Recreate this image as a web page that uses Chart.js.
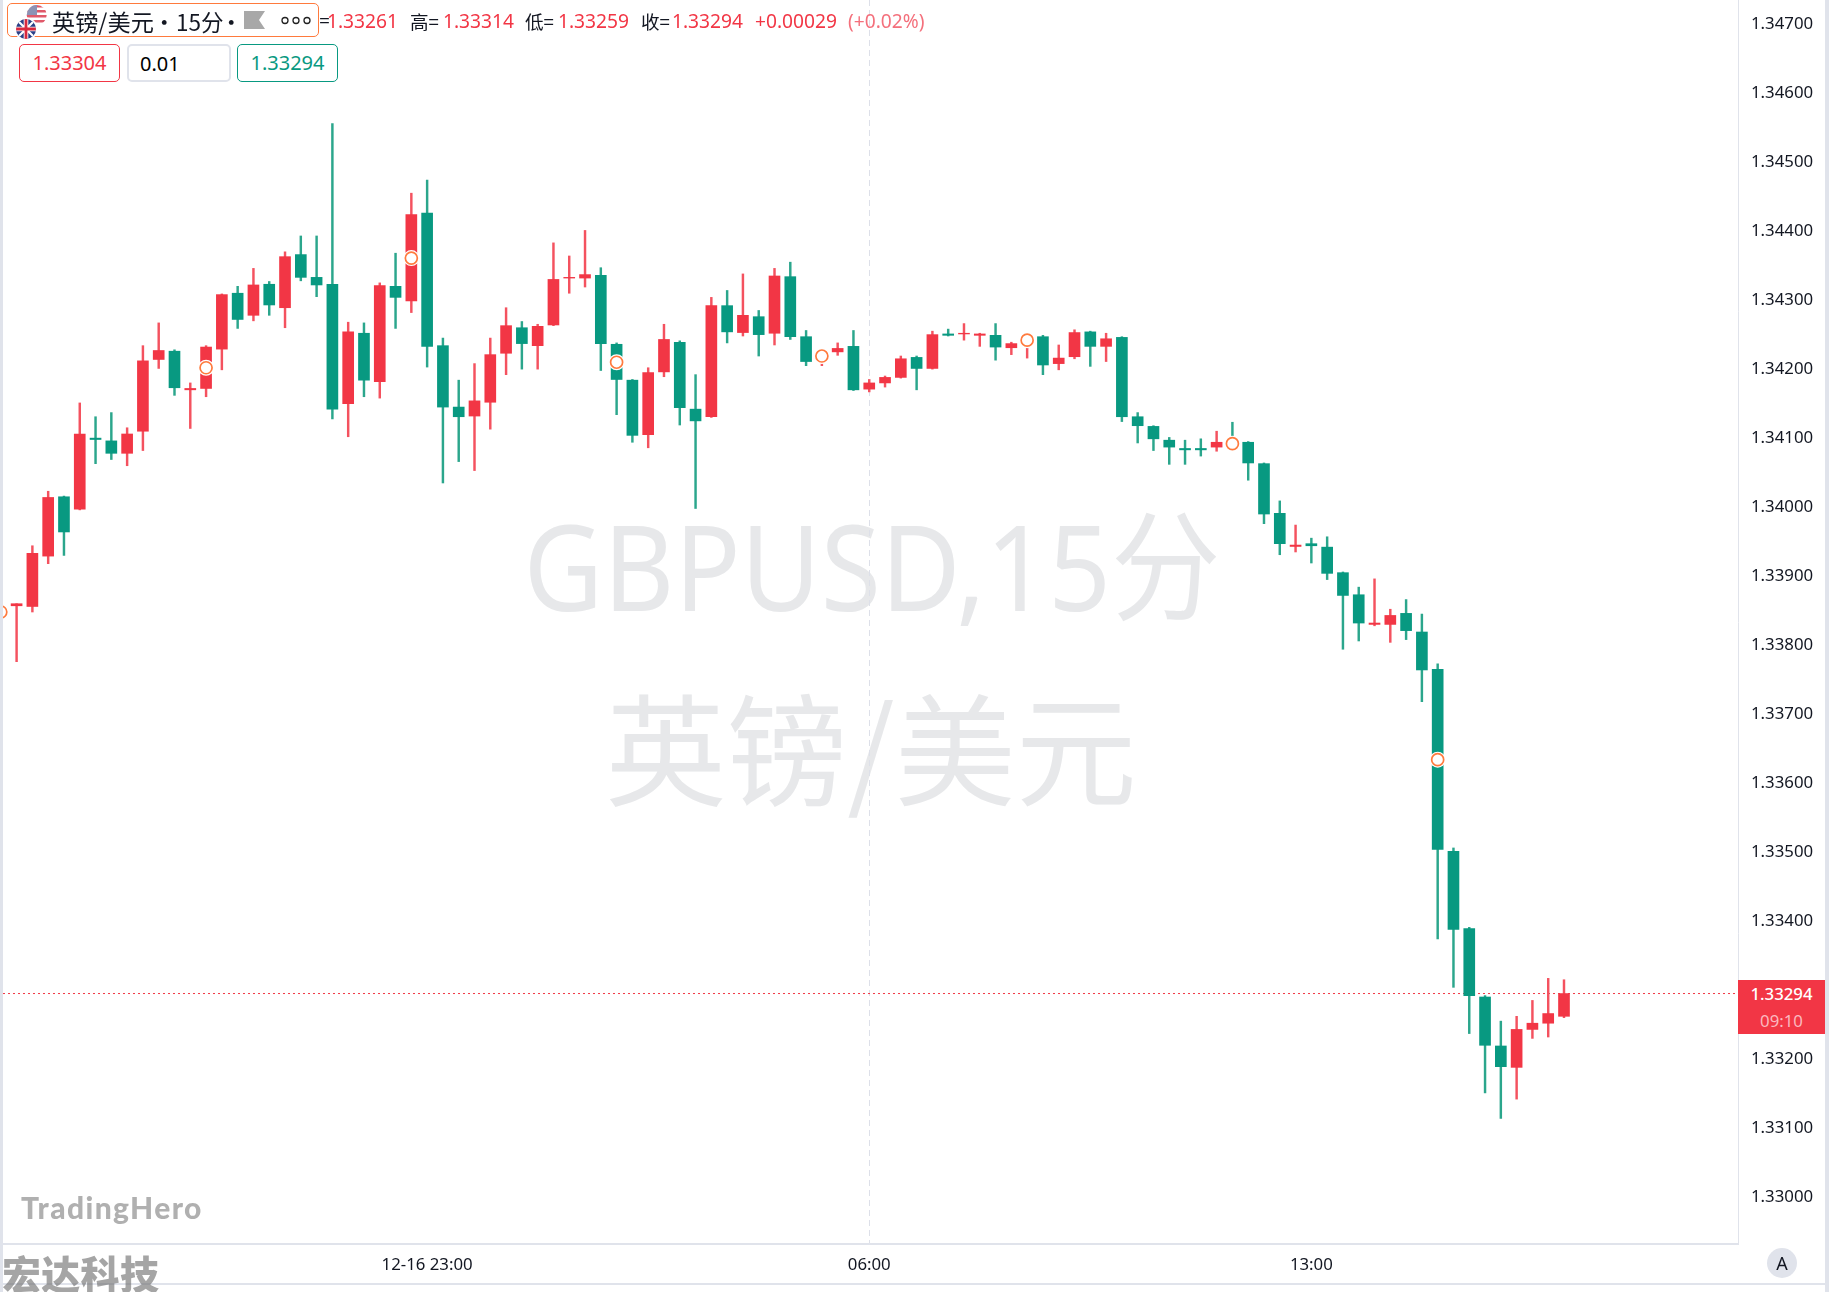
<!DOCTYPE html>
<html>
<head>
<meta charset="utf-8">
<title>GBPUSD 15分</title>
<script src="https://cdn.jsdelivr.net/npm/chart.js@4"></script>
<style>
  html, body { margin: 0; padding: 0; background: #fff; }
  #wrap { position: relative; width: 1829px; height: 1292px; overflow: hidden; background: #fff; font-family: "Noto Sans", sans-serif; color: #131722; }
  #chart { position: absolute; left: 0; top: 0; z-index: 2; }
  .abs { position: absolute; white-space: nowrap; z-index: 3; }
  .band { position: absolute; background: #e0e3eb; z-index: 4; }
  .wm { position: absolute; z-index: 1; color: #e7e8ea; white-space: nowrap; text-align: center; }
  .ohlc { font-size: 19.2px; top: 8px; line-height: 26px; }
  .up { color: #f23645; }
  .chip { box-sizing: border-box; height: 38px; top: 44px; border-radius: 5px; background: #fff; font-size: 20px; line-height: 36px; text-align: center; }
  .hd { top: 6px; font: 400 22.5px 'Noto Sans CJK SC'; line-height: 30px; color: #131722; }
</style>
</head>
<body>
<div id="wrap">
  <div class="wm" style="left:472px;top:490px;width:800px;font:400 119px 'Noto Sans','Noto Sans CJK SC';transform:scaleX(.92);line-height:150px">GBPUSD,15分</div>
  <div class="wm" style="left:471px;top:654px;width:800px;font:400 121px 'Noto Sans CJK SC';line-height:180px">英镑/美元</div>

  <canvas id="chart" width="1829" height="1292"></canvas>

  <div class="band" style="left:0;top:0;width:3px;height:1292px"></div>
  <div class="band" style="left:1825px;top:0;width:4px;height:1292px"></div>
  <div class="band" style="left:3px;top:1283px;width:1822px;height:2px"></div>

  <div class="abs" style="left:7px;top:3px;width:312px;height:34px;border:1.5px solid #ff7a3d;border-radius:5px;background:#fff;box-sizing:border-box"></div>
  <svg class="abs" style="left:13px;top:3px" width="36" height="36" viewBox="0 0 36 36">
    <defs>
      <clipPath id="us"><circle cx="23.7" cy="12" r="10"/></clipPath>
      <clipPath id="uk"><circle cx="13" cy="26" r="10"/></clipPath>
    </defs>
    <g clip-path="url(#us)">
      <rect x="13" y="2" width="22" height="20" fill="#fff"/>
      <rect x="13" y="2" width="22" height="2.5" fill="#e0596a"/>
      <rect x="13" y="7" width="22" height="2.5" fill="#e0596a"/>
      <rect x="13" y="12" width="22" height="2.5" fill="#e0596a"/>
      <rect x="13" y="17" width="22" height="2.5" fill="#e0596a"/>
      <rect x="13" y="2" width="11" height="10" fill="#8c93b5"/>
    </g>
    <circle cx="13" cy="26" r="11.5" fill="#fff"/>
    <g clip-path="url(#uk)">
      <rect x="3" y="16" width="20" height="20" fill="#2b3f86"/>
      <path d="M3 16L23 36M23 16L3 36" stroke="#fff" stroke-width="2.2"/>
      <path d="M13 16V36M3 26H23" stroke="#fff" stroke-width="4.6"/>
      <path d="M13 16V36M3 26H23" stroke="#d9283e" stroke-width="2.8"/>
    </g>
  </svg>
  <div class="abs hd" style="left:52px;font-size:23.2px">英镑/美元</div>
  <div class="abs hd" style="left:153px">•</div>
  <div class="abs hd" style="left:176px">15分</div>
  <div class="abs hd" style="left:220px">•</div>
  <svg class="abs" style="left:244px;top:11px" width="70" height="18" viewBox="0 0 70 18">
    <path d="M0 0H21L15 9L21 18H0Z" fill="#a8a8a8"/>
    <circle cx="41" cy="9.5" r="3" fill="none" stroke="#222" stroke-width="1.3"/>
    <circle cx="52" cy="9.5" r="3" fill="none" stroke="#222" stroke-width="1.3"/>
    <circle cx="63" cy="9.5" r="3" fill="none" stroke="#222" stroke-width="1.3"/>
  </svg>

  <div class="abs ohlc" style="left:319px">=</div>
  <div class="abs ohlc up" style="left:327px">1.33261</div>
  <div class="abs ohlc" style="left:410px;font-family:'Noto Sans CJK SC';font-size:18.6px">高=</div>
  <div class="abs ohlc up" style="left:443px">1.33314</div>
  <div class="abs ohlc" style="left:525px;font-family:'Noto Sans CJK SC';font-size:18.6px">低=</div>
  <div class="abs ohlc up" style="left:558px">1.33259</div>
  <div class="abs ohlc" style="left:641px;font-family:'Noto Sans CJK SC';font-size:18.6px">收=</div>
  <div class="abs ohlc up" style="left:672px">1.33294</div>
  <div class="abs ohlc up" style="left:755px">+0.00029</div>
  <div class="abs ohlc" style="left:848px;color:#f4707c">(+0.02%)</div>

  <div class="abs chip up" style="left:19px;width:101px;border:1.5px solid #f23645">1.33304</div>
  <div class="abs chip" style="left:127px;width:104px;border:2px solid #e0e3eb;text-align:left;padding-left:11px;color:#000">0.01</div>
  <div class="abs chip" style="left:237px;width:101px;border:1.5px solid #089981;color:#089981">1.33294</div>

  <div class="abs" style="left:21px;top:1187px;font:900 30px Lato;color:#b0b0b0;line-height:40px;letter-spacing:1.4px">TradingHero</div>
  <div class="abs" style="left:2px;top:1247px;font:900 39px 'Noto Sans CJK SC';color:rgba(110,110,110,.62);line-height:50px;z-index:5;letter-spacing:.3px">宏达科技</div>

  <div class="abs" style="left:1738px;top:980px;width:87px;height:54px;background:#f23645;text-align:center;font-size:16.8px;line-height:27px;color:#fff;font-weight:500">1.33294<br><span style="color:#fbb8bf;font-weight:400">09:10</span></div>
  <div class="abs" style="left:1767px;top:1248px;width:30px;height:30px;border-radius:50%;background:#e0e3eb;text-align:center;font-size:18px;line-height:30px">A</div>
</div>

<script>
// prices, candle by candle
const opens = [
  1.33856, 1.33855, 1.33928, 1.34014, 1.33996, 1.34099, 1.34095, 1.34077, 1.34109, 1.34213,
  1.34225, 1.34169, 1.34171, 1.34228, 1.34309, 1.34277, 1.34322, 1.34288, 1.34365, 1.34332,
  1.34322, 1.34149, 1.34251, 1.34181, 1.34319, 1.34298, 1.34425, 1.34233, 1.34144, 1.34131,
  1.34151, 1.34222, 1.34259, 1.34233, 1.34263, 1.34331, 1.34331, 1.34335, 1.34235, 1.34183,
  1.34104, 1.34195, 1.34238, 1.34141, 1.34130, 1.34291, 1.34252, 1.34275, 1.34251, 1.34333,
  1.34246, 1.34216, 1.34224, 1.34232, 1.34170, 1.34179, 1.34187, 1.34216, 1.34200, 1.34250,
  1.34250, 1.34248, 1.34248, 1.34230, 1.34238, 1.34246, 1.34207, 1.34217, 1.34253, 1.34232,
  1.34245, 1.34130, 1.34116, 1.34096, 1.34084, 1.34084, 1.34086, 1.34094, 1.34093, 1.34062,
  1.33990, 1.33942, 1.33946, 1.33941, 1.33904, 1.33872, 1.33829, 1.33829, 1.33845, 1.33818,
  1.33764, 1.33500, 1.33388, 1.33289, 1.33218, 1.33187, 1.33242, 1.33251, 1.33261
];
const highs = [
  1.33859, 1.33943, 1.34022, 1.34015, 1.34150, 1.34130, 1.34136, 1.34114, 1.34233, 1.34266,
  1.34227, 1.34179, 1.34233, 1.34308, 1.34319, 1.34345, 1.34326, 1.34369, 1.34392, 1.34392,
  1.34555, 1.34267, 1.34266, 1.34324, 1.34367, 1.34454, 1.34473, 1.34244, 1.34183, 1.34207,
  1.34244, 1.34288, 1.34268, 1.34264, 1.34382, 1.34363, 1.34400, 1.34346, 1.34237, 1.34184,
  1.34201, 1.34264, 1.34240, 1.34191, 1.34303, 1.34313, 1.34337, 1.34284, 1.34345, 1.34354,
  1.34255, 1.34226, 1.34237, 1.34255, 1.34184, 1.34189, 1.34218, 1.34218, 1.34254, 1.34257,
  1.34265, 1.34251, 1.34265, 1.34238, 1.34248, 1.34248, 1.34234, 1.34256, 1.34254, 1.34251,
  1.34246, 1.34136, 1.34117, 1.34100, 1.34096, 1.34098, 1.34109, 1.34122, 1.34094, 1.34063,
  1.34008, 1.33973, 1.33954, 1.33956, 1.33905, 1.33883, 1.33895, 1.33851, 1.33865, 1.33844,
  1.33772, 1.33505, 1.33390, 1.33291, 1.33254, 1.33261, 1.33284, 1.33316, 1.33314
];
const lows = [
  1.33775, 1.33847, 1.33917, 1.33929, 1.33995, 1.34062, 1.34068, 1.34059, 1.34081, 1.34200,
  1.34161, 1.34113, 1.34159, 1.34198, 1.34258, 1.34269, 1.34277, 1.34259, 1.34327, 1.34304,
  1.34127, 1.34101, 1.34159, 1.34157, 1.34258, 1.34281, 1.34202, 1.34034, 1.34065, 1.34052,
  1.34112, 1.34191, 1.34199, 1.34199, 1.34262, 1.34309, 1.34318, 1.34197, 1.34133, 1.34093,
  1.34085, 1.34188, 1.34118, 1.33997, 1.34129, 1.34237, 1.34247, 1.34218, 1.34234, 1.34242,
  1.34204, 1.34204, 1.34219, 1.34168, 1.34166, 1.34173, 1.34186, 1.34169, 1.34199, 1.34247,
  1.34241, 1.34232, 1.34212, 1.34220, 1.34215, 1.34191, 1.34198, 1.34214, 1.34203, 1.34210,
  1.34123, 1.34092, 1.34081, 1.34061, 1.34061, 1.34073, 1.34080, 1.34085, 1.34038, 1.33975,
  1.33930, 1.33934, 1.33918, 1.33894, 1.33793, 1.33805, 1.33827, 1.33803, 1.33807, 1.33717,
  1.33373, 1.33303, 1.33236, 1.33150, 1.33113, 1.33141, 1.33229, 1.33231, 1.33259
];
const closes = [
  1.33859, 1.33932, 1.34013, 1.33963, 1.34105, 1.34097, 1.34077, 1.34105, 1.34211, 1.34226,
  1.34172, 1.34171, 1.34231, 1.34307, 1.34271, 1.34321, 1.34292, 1.34362, 1.34332, 1.34321,
  1.34141, 1.34253, 1.34183, 1.34320, 1.34303, 1.34423, 1.34232, 1.34144, 1.34130, 1.34153,
  1.34220, 1.34262, 1.34236, 1.34261, 1.34329, 1.34332, 1.34336, 1.34236, 1.34184, 1.34103,
  1.34194, 1.34242, 1.34143, 1.34124, 1.34291, 1.34253, 1.34277, 1.34249, 1.34334, 1.34246,
  1.34210, 1.34220, 1.34229, 1.34169, 1.34179, 1.34187, 1.34214, 1.34200, 1.34249, 1.34248,
  1.34251, 1.34250, 1.34231, 1.34236, 1.34243, 1.34205, 1.34215, 1.34252, 1.34232, 1.34243,
  1.34130, 1.34117, 1.34098, 1.34086, 1.34082, 1.34082, 1.34093, 1.34089, 1.34063, 1.33989,
  1.33946, 1.33944, 1.33943, 1.33903, 1.33871, 1.33831, 1.33831, 1.33842, 1.33820, 1.33763,
  1.33503, 1.33387, 1.33291, 1.33219, 1.33188, 1.33242, 1.33251, 1.33265, 1.33294
];

// orange event rings
const markerIndex = [-1, 12, 25, 38, 51, 64, 77, 90];
const markerValues = [1.33847, 1.34201, 1.34360, 1.34209, 1.34218, 1.34241, 1.34091, 1.33633];

const lastPrice = 1.33294;

const priceTicks = [1.33, 1.331, 1.332, 1.333, 1.334, 1.335, 1.336, 1.337, 1.338, 1.339,
  1.34, 1.341, 1.342, 1.343, 1.344, 1.345, 1.346, 1.347];
const timeTickIndex = [26, 54, 82];
const timeTickLabels = ['12-16 23:00', '06:00', '13:00'];

const RED = '#f23645';
const GREEN = '#089981';
const xMin = -0.861, xMax = 109.02;

function candleColor(ctx) {
    return closes[ctx.dataIndex] >= opens[ctx.dataIndex] ? RED : GREEN;
}

// wicks are a touch paler than the bodies
function wickColor(ctx) {
    return closes[ctx.dataIndex] >= opens[ctx.dataIndex] ? '#f4525f' : '#2ba68c';
}

// the layout would otherwise shrink the plot for half a tick label at the ends
function noPadding(s) {
    s.paddingTop = 0;
    s.paddingBottom = 0;
    s.paddingLeft = 0;
    s.paddingRight = 0;
}

const tickFont = { family: '"Noto Sans"', size: 16.8 };

new Chart(document.getElementById('chart').getContext('2d'), {
    type: 'bar',
    data: {
        datasets: [
            {
                type: 'line',
                data: markerIndex.map((x, i) => ({ x: x, y: markerValues[i] })),
                showLine: false,
                pointRadius: 6,
                pointBorderWidth: 1.7,
                pointBorderColor: '#ff7a3d',
                pointBackgroundColor: '#fff',
                clip: 0,
                order: 0
            },
            {
                type: 'line',
                data: markerIndex.map((x, i) => ({ x: x, y: markerValues[i] })),
                showLine: false,
                pointRadius: 8,
                pointBorderWidth: 0,
                pointBackgroundColor: '#fff',
                clip: 0,
                order: 1
            },
            {
                label: 'body',
                data: opens.map((o, i) => ({ x: i, y: [o, closes[i]] })),
                backgroundColor: candleColor,
                barThickness: 11,
                order: 2
            },
            {
                label: 'wick',
                data: lows.map((l, i) => ({ x: i, y: [l, highs[i]] })),
                backgroundColor: wickColor,
                barThickness: 1.8,
                order: 3
            },
            {
                type: 'line',
                data: [{ x: xMin, y: lastPrice }, { x: xMax, y: lastPrice }],
                borderColor: RED,
                borderWidth: 1,
                borderDash: [2, 3],
                pointRadius: 0,
                order: 4
            }
        ]
    },
    options: {
        responsive: false,
        animation: false,
        events: [],
        layout: { autoPadding: false, padding: { left: 3, right: 4, top: 0, bottom: 0 } },
        datasets: { bar: { grouped: false } },
        plugins: { legend: { display: false }, tooltip: { enabled: false } },
        scales: {
            x: {
                type: 'linear',
                offset: false,
                min: xMin,
                max: xMax,
                afterBuildTicks: s => { s.ticks = timeTickIndex.map(v => ({ value: v })); },
                afterFit: s => { s.height = 48; noPadding(s); },
                grid: {
                    offset: false,
                    drawTicks: false,
                    lineWidth: 1,
                    color: c => c.tick && c.tick.value === 54 ? '#dde0e9' : 'transparent'
                },
                border: { color: '#e0e3eb', width: 2, dash: [6, 4] },
                ticks: {
                    autoSkip: false,
                    maxRotation: 0,
                    padding: 11,
                    color: '#131722',
                    font: tickFont,
                    callback: v => timeTickLabels[timeTickIndex.indexOf(v)]
                }
            },
            y: {
                position: 'right',
                min: 1.32931,
                max: 1.34734,
                afterBuildTicks: s => { s.ticks = priceTicks.map(v => ({ value: v })); },
                afterFit: s => { s.width = 87; noPadding(s); },
                grid: { display: false, drawTicks: false },
                border: { color: '#e0e3eb', width: 1 },
                ticks: {
                    padding: 13,
                    labelOffset: 1,
                    color: '#131722',
                    font: tickFont,
                    callback: v => v.toFixed(5)
                }
            }
        }
    }
});
</script>
</body>
</html>
